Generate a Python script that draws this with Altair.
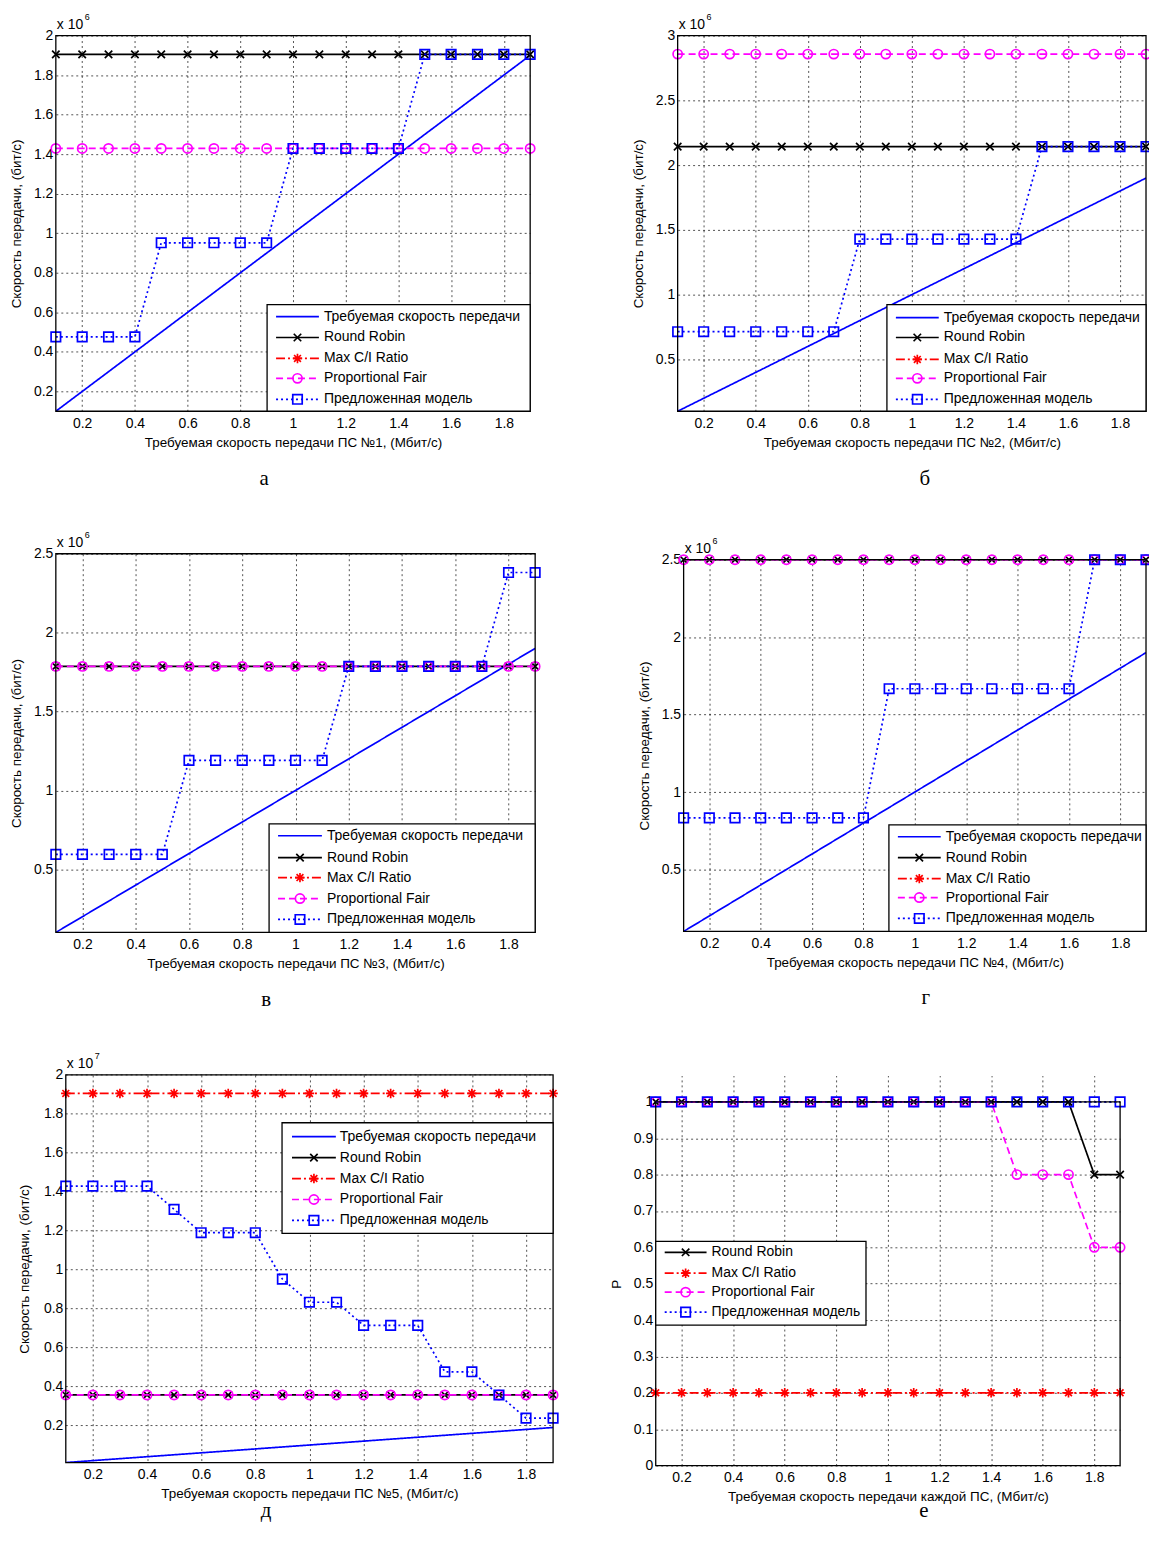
import altair as alt
import pandas as pd

FONT = "Liberation Sans"
SERIF = "Liberation Serif"

# ---------------- data ----------------
X = [0.1, 0.2, 0.3, 0.4, 0.5, 0.6, 0.7, 0.8, 0.9, 1.0,
     1.1, 1.2, 1.3, 1.4, 1.5, 1.6, 1.7, 1.8, 1.9]
X_TICKS = [0.2, 0.4, 0.6, 0.8, 1.0, 1.2, 1.4, 1.6, 1.8]

LABELS = {
    "req": "Требуемая скорость передачи",
    "rr": "Round Robin",
    "mci": "Max C/I Ratio",
    "pf": "Proportional Fair",
    "prop": "Предложенная модель",
}

# panel а  (x 10^6 bit/s)
a_req = [0.1, 0.2, 0.3, 0.4, 0.5, 0.6, 0.7, 0.8, 0.9, 1.0, 1.1, 1.2, 1.3, 1.4, 1.5, 1.6, 1.7, 1.8, 1.9]
a_rr = [1.905, 1.905, 1.905, 1.905, 1.905, 1.905, 1.905, 1.905, 1.905, 1.905, 1.905, 1.905, 1.905, 1.905, 1.905, 1.905, 1.905, 1.905, 1.905]
a_mci = [0, 0, 0, 0, 0, 0, 0, 0, 0, 0, 0, 0, 0, 0, 0, 0, 0, 0, 0]
a_pf = [1.429, 1.429, 1.429, 1.429, 1.429, 1.429, 1.429, 1.429, 1.429, 1.429, 1.429, 1.429, 1.429, 1.429, 1.429, 1.429, 1.429, 1.429, 1.429]
a_prop = [0.476, 0.476, 0.476, 0.476, 0.952, 0.952, 0.952, 0.952, 0.952, 1.429, 1.429, 1.429, 1.429, 1.429, 1.905, 1.905, 1.905, 1.905, 1.905]
a_yticks = [0.2, 0.4, 0.6, 0.8, 1.0, 1.2, 1.4, 1.6, 1.8, 2.0]

# panel б  (x 10^6 bit/s)
b_req = [0.1, 0.2, 0.3, 0.4, 0.5, 0.6, 0.7, 0.8, 0.9, 1.0, 1.1, 1.2, 1.3, 1.4, 1.5, 1.6, 1.7, 1.8, 1.9]
b_rr = [2.143, 2.143, 2.143, 2.143, 2.143, 2.143, 2.143, 2.143, 2.143, 2.143, 2.143, 2.143, 2.143, 2.143, 2.143, 2.143, 2.143, 2.143, 2.143]
b_mci = [0, 0, 0, 0, 0, 0, 0, 0, 0, 0, 0, 0, 0, 0, 0, 0, 0, 0, 0]
b_pf = [2.857, 2.857, 2.857, 2.857, 2.857, 2.857, 2.857, 2.857, 2.857, 2.857, 2.857, 2.857, 2.857, 2.857, 2.857, 2.857, 2.857, 2.857, 2.857]
b_prop = [0.714, 0.714, 0.714, 0.714, 0.714, 0.714, 0.714, 1.429, 1.429, 1.429, 1.429, 1.429, 1.429, 1.429, 2.143, 2.143, 2.143, 2.143, 2.143]
b_yticks = [0.5, 1.0, 1.5, 2.0, 2.5, 3.0]

# panel в  (x 10^6 bit/s)
v_req = [0.1, 0.2, 0.3, 0.4, 0.5, 0.6, 0.7, 0.8, 0.9, 1.0, 1.1, 1.2, 1.3, 1.4, 1.5, 1.6, 1.7, 1.8, 1.9]
v_rr = [1.786, 1.786, 1.786, 1.786, 1.786, 1.786, 1.786, 1.786, 1.786, 1.786, 1.786, 1.786, 1.786, 1.786, 1.786, 1.786, 1.786, 1.786, 1.786]
v_mci = [0, 0, 0, 0, 0, 0, 0, 0, 0, 0, 0, 0, 0, 0, 0, 0, 0, 0, 0]
v_pf = [1.786, 1.786, 1.786, 1.786, 1.786, 1.786, 1.786, 1.786, 1.786, 1.786, 1.786, 1.786, 1.786, 1.786, 1.786, 1.786, 1.786, 1.786, 1.786]
v_prop = [0.595, 0.595, 0.595, 0.595, 0.595, 1.190, 1.190, 1.190, 1.190, 1.190, 1.190, 1.786, 1.786, 1.786, 1.786, 1.786, 1.786, 2.381, 2.381]
v_yticks = [0.5, 1.0, 1.5, 2.0, 2.5]

# panel г  (x 10^6 bit/s)
g_req = [0.1, 0.2, 0.3, 0.4, 0.5, 0.6, 0.7, 0.8, 0.9, 1.0, 1.1, 1.2, 1.3, 1.4, 1.5, 1.6, 1.7, 1.8, 1.9]
g_rr = [2.5, 2.5, 2.5, 2.5, 2.5, 2.5, 2.5, 2.5, 2.5, 2.5, 2.5, 2.5, 2.5, 2.5, 2.5, 2.5, 2.5, 2.5, 2.5]
g_mci = [0, 0, 0, 0, 0, 0, 0, 0, 0, 0, 0, 0, 0, 0, 0, 0, 0, 0, 0]
g_pf = [2.5, 2.5, 2.5, 2.5, 2.5, 2.5, 2.5, 2.5, 2.5, 2.5, 2.5, 2.5, 2.5, 2.5, 2.5, 2.5, 2.5, 2.5, 2.5]
g_prop = [0.833, 0.833, 0.833, 0.833, 0.833, 0.833, 0.833, 0.833, 1.667, 1.667, 1.667, 1.667, 1.667, 1.667, 1.667, 1.667, 2.5, 2.5, 2.5]
g_yticks = [0.5, 1.0, 1.5, 2.0, 2.5]

# panel д  (x 10^7 bit/s)
d_req = [0.01, 0.02, 0.03, 0.04, 0.05, 0.06, 0.07, 0.08, 0.09, 0.10, 0.11, 0.12, 0.13, 0.14, 0.15, 0.16, 0.17, 0.18, 0.19]
d_rr = [0.357, 0.357, 0.357, 0.357, 0.357, 0.357, 0.357, 0.357, 0.357, 0.357, 0.357, 0.357, 0.357, 0.357, 0.357, 0.357, 0.357, 0.357, 0.357]
d_mci = [1.905, 1.905, 1.905, 1.905, 1.905, 1.905, 1.905, 1.905, 1.905, 1.905, 1.905, 1.905, 1.905, 1.905, 1.905, 1.905, 1.905, 1.905, 1.905]
d_pf = [0.357, 0.357, 0.357, 0.357, 0.357, 0.357, 0.357, 0.357, 0.357, 0.357, 0.357, 0.357, 0.357, 0.357, 0.357, 0.357, 0.357, 0.357, 0.357]
d_prop = [1.429, 1.429, 1.429, 1.429, 1.310, 1.190, 1.190, 1.190, 0.952, 0.833, 0.833, 0.714, 0.714, 0.714, 0.476, 0.476, 0.357, 0.238, 0.238]
d_yticks = [0.2, 0.4, 0.6, 0.8, 1.0, 1.2, 1.4, 1.6, 1.8, 2.0]

# panel е  (probability P)
e_rr = [1, 1, 1, 1, 1, 1, 1, 1, 1, 1, 1, 1, 1, 1, 1, 1, 1, 0.8, 0.8]
e_mci = [0.2, 0.2, 0.2, 0.2, 0.2, 0.2, 0.2, 0.2, 0.2, 0.2, 0.2, 0.2, 0.2, 0.2, 0.2, 0.2, 0.2, 0.2, 0.2]
e_pf = [1, 1, 1, 1, 1, 1, 1, 1, 1, 1, 1, 1, 1, 1, 0.8, 0.8, 0.8, 0.6, 0.6]
e_prop = [1, 1, 1, 1, 1, 1, 1, 1, 1, 1, 1, 1, 1, 1, 1, 1, 1, 1, 1]
e_yticks = [0, 0.1, 0.2, 0.3, 0.4, 0.5, 0.6, 0.7, 0.8, 0.9, 1.0]

# ---------------- styles ----------------
XPATH = "M-1,-1L1,1M-1,1L1,-1"
STAR = "M-1,0L1,0M0,-1L0,1M-0.72,-0.72L0.72,0.72M-0.72,0.72L0.72,-0.72"
STY = {
    "req": dict(color="#0000ff", dash=[1, 0], shape=None, size=0),
    "rr": dict(color="#000000", dash=[1, 0], shape=XPATH, size=56),
    "mci": dict(color="#ff0000", dash=[9, 3, 2, 3], shape=STAR, size=90),
    "pf": dict(color="#ff00ff", dash=[7, 4], shape="circle", size=85),
    "prop": dict(color="#0000ff", dash=[2, 3], shape="square", size=90),
}
ONE = pd.DataFrame({"k": [0]})


def panel(series, ymin, ymax, yticks, w, h, xtitle, ytitle, exp, caption, leg,
          ytp=10, band=0, xband=0, left_pad=None):
    H = h + band
    W = w + xband
    ytop = ymax + (ymax - ymin) * band / h   # empty strip above the frame
    xlow = 0.1 - 1.8 * xband / w             # empty strip left of the frame
    xs = alt.Scale(domain=[xlow, 1.9], nice=False, zero=False)
    ys = alt.Scale(domain=[ymin, ytop], nice=False, zero=False)
    xa = alt.Axis(values=X_TICKS, format="~g", title=xtitle, labelPadding=5, titlePadding=5,
                  titleX=xband + w / 2)
    if xband:
        ya = alt.Axis(values=yticks, format="~g", title=ytitle, labelPadding=3, titlePadding=ytp,
                      titleY=band + h / 2, offset=-xband, grid=False)
    else:
        ya = alt.Axis(values=yticks, format="~g", title=ytitle, labelPadding=3, titlePadding=ytp,
                      titleY=band + h / 2)
    xe = alt.X("x:Q", scale=xs, axis=xa)
    ye = alt.Y("y:Q", scale=ys, axis=ya)
    layers = []
    if band:
        layers.append(alt.Chart(ONE).mark_rect(fill="white").encode(
            x=alt.X(datum=0.1, type="quantitative", scale=xs, axis=xa), x2=alt.X2(datum=1.9),
            y=alt.value(-1), y2=alt.Y2(datum=ymax)))
    if xband:
        layers.append(alt.Chart(pd.DataFrame({"y": yticks})).mark_rule(
            color="black", strokeDash=[2, 3], strokeWidth=0.8, opacity=0.85).encode(
            y=ye, x=alt.X(datum=0.1, type="quantitative", scale=xs, axis=xa), x2=alt.X2(datum=1.9)))
    for key, vals in series:
        st = STY[key]
        df = pd.DataFrame({"x": X, "y": vals})
        layers.append(alt.Chart(df).mark_line(color=st["color"], strokeDash=st["dash"],
                                              strokeWidth=1.7, clip=True).encode(x=xe, y=ye))
        if st["shape"]:
            layers.append(alt.Chart(df).transform_filter(f"datum.y >= {ymin}").mark_point(
                shape=st["shape"], size=st["size"], color=st["color"], filled=False,
                strokeWidth=1.7, opacity=1).encode(x=xe, y=ye))
    # plot frame
    layers.append(alt.Chart(ONE).mark_rect(fill="transparent", stroke="black", strokeWidth=1.3).encode(
        x=alt.X(datum=0.1, type="quantitative", scale=xs, axis=xa), x2=alt.X2(datum=1.9),
        y=alt.Y(datum=ymax, type="quantitative", scale=ys, axis=ya), y2=alt.Y2(datum=ymin)))
    # legend (drawn as marks, MATLAB style)
    (bx1, bx2, by1, by2), rows, (lx1, lx2), tx = leg
    bx1, bx2, lx1, lx2, tx = bx1 + xband, bx2 + xband, lx1 + xband, lx2 + xband, tx + xband
    layers.append(alt.Chart(ONE).mark_rect(fill="white", stroke="black", strokeWidth=1.3).encode(
        x=alt.value(bx1), x2=alt.value(bx2), y=alt.value(by1 + band), y2=alt.value(by2 + band)))
    for (key, _), yy in zip(series, rows):
        st = STY[key]
        yy = yy + band
        layers.append(alt.Chart(ONE).mark_rule(color=st["color"], strokeDash=st["dash"],
                                               strokeWidth=1.7).encode(
            x=alt.value(lx1), x2=alt.value(lx2), y=alt.value(yy)))
        if st["shape"]:
            layers.append(alt.Chart(ONE).mark_point(shape=st["shape"], size=st["size"],
                                                    color=st["color"], filled=False,
                                                    strokeWidth=1.7, opacity=1).encode(
                x=alt.value((lx1 + lx2) / 2), y=alt.value(yy)))
        layers.append(alt.Chart(ONE).mark_text(text=LABELS[key], align="left", baseline="middle",
                                               font=FONT, fontSize=14, color="black").encode(
            x=alt.value(tx), y=alt.value(yy)))
    # exponent label
    if exp:
        layers.append(alt.Chart(ONE).mark_text(text="x 10", align="left", baseline="alphabetic",
                                               font=FONT, fontSize=14, color="black").encode(
            x=alt.value(xband + 1), y=alt.value(band - 7)))
        layers.append(alt.Chart(ONE).mark_text(text=exp, align="left", baseline="alphabetic",
                                               font=FONT, fontSize=9, color="black").encode(
            x=alt.value(xband + 29), y=alt.value(band - 16)))
    if left_pad is not None:
        layers.append(alt.Chart(ONE).mark_rect(fill="white", opacity=0).encode(
            x=alt.value(-left_pad), x2=alt.value(-left_pad + 2),
            y=alt.value(H / 2), y2=alt.value(H / 2 + 2)))
    # caption letter
    cx, cy, ctext = caption
    layers.append(alt.Chart(ONE).mark_text(text=ctext, align="center", baseline="middle",
                                           font=SERIF, fontSize=21, color="black").encode(
        x=alt.value(cx + xband), y=alt.value(cy + band)))
    return alt.layer(*layers).properties(width=W, height=H)


YT = "Скорость передачи, (бит/с)"
XT = "Требуемая скорость передачи ПС №{}, (Мбит/с)"
FIVE = ["req", "rr", "mci", "pf", "prop"]

pa = panel(list(zip(FIVE, [a_req, a_rr, a_mci, a_pf, a_prop])), 0.1, 2.0, a_yticks, 476, 377,
           XT.format(1), YT, "6", (209, 445, "а"),
           ((212, 476, 270, 377), [282, 303, 324, 344, 365], (221, 264), 269), left_pad=57)
pb = panel(list(zip(FIVE, [b_req, b_rr, b_mci, b_pf, b_prop])), 0.1, 3.0, b_yticks, 470, 377,
           XT.format(2), YT, "6", (248, 445, "б"),
           ((210, 470, 270, 377), [283, 303, 325, 344, 365], (219, 262), 267))
pv = panel(list(zip(FIVE, [v_req, v_rr, v_mci, v_pf, v_prop])), 0.1, 2.5, v_yticks, 481, 380,
           XT.format(3), YT, "6", (211, 448, "в"),
           ((214, 481, 271, 380), [283, 305, 325, 346, 367], (223, 267), 272))
pg = panel(list(zip(FIVE, [g_req, g_rr, g_mci, g_pf, g_prop])), 0.1, 2.5, g_yticks, 464, 373,
           XT.format(4), YT, "6", (243, 440, "г"),
           ((206, 464, 266, 373), [278, 299, 320, 339, 360], (215, 258), 263), band=6)
pd_ = panel(list(zip(FIVE, [d_req, d_rr, d_mci, d_pf, d_prop])), 0.01, 2.0, d_yticks, 489, 389,
            XT.format(5), YT, "7", (201, 438, "д"),
            ((217, 489, 48, 159), [62, 83, 104, 125, 146], (227, 271), 275), ytp=12, xband=10)
pe = panel(list(zip(["rr", "mci", "pf", "prop"], [e_rr, e_mci, e_pf, e_prop])), 0.0, 1.0, e_yticks,
           466, 365, "Требуемая скорость передачи каждой ПС, (Мбит/с)", "P", None, (269, 411, "е"),
           ((0, 211, 140, 224), [151, 172, 191, 211], (9, 51), 56), band=27)

row1 = alt.hconcat(pa, pb, spacing=92)
row2 = alt.hconcat(pv, pg, spacing=93)
row3 = alt.hconcat(pd_, pe, spacing=47)

chart = alt.vconcat(row1, row2, row3, spacing=42).properties(
    padding={"left": -9, "top": 2, "right": -6, "bottom": 0},
    background="white",
).configure_axis(
    labelFont=FONT, labelFontSize=14, labelColor="black",
    titleFont=FONT, titleFontSize=13.5, titleFontWeight="normal", titleColor="black",
    domain=False, ticks=False, grid=True, gridColor="black", gridDash=[2, 3],
    gridOpacity=0.85, gridWidth=0.8, labelFlush=False, labelOverlap=False,
).configure_view(stroke="transparent", strokeWidth=0)

chart.save("out.html", embed_options={"renderer": "svg", "actions": False})
